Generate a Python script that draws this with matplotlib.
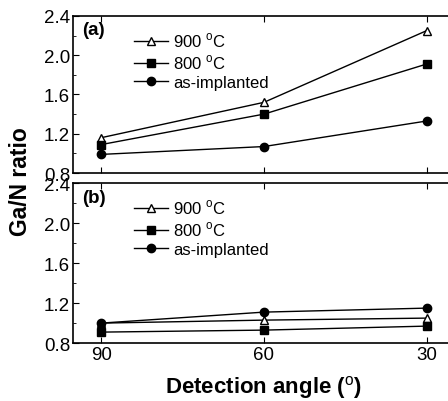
import matplotlib
matplotlib.use('Agg')
import matplotlib.pyplot as plt
from matplotlib.ticker import MultipleLocator

plt.rcParams['font.family'] = 'Liberation Sans'
plt.rcParams['mathtext.fontset'] = 'custom'
plt.rcParams['mathtext.rm'] = 'Liberation Sans'
plt.rcParams['mathtext.bf'] = 'Liberation Sans:bold'

angles = [90, 60, 30]
labels = ['900 $^{\\rm o}$C', '800 $^{\\rm o}$C', 'as-implanted']
markers = ['^', 's', 'o']
faces = ['white', 'black', 'black']

# panel (a)
a_900 = [1.16, 1.52, 2.25]
a_800 = [1.09, 1.40, 1.91]
a_imp = [0.99, 1.07, 1.33]
# panel (b)
b_900 = [1.00, 1.03, 1.05]
b_800 = [0.91, 0.93, 0.97]
b_imp = [1.00, 1.11, 1.15]

fig = plt.figure(figsize=(4.48, 4.02), dpi=100)
ax1 = fig.add_axes([0.163, 0.567, 0.85, 0.391])
ax2 = fig.add_axes([0.163, 0.144, 0.85, 0.398])

for ax, series, tag in [(ax1, [a_900, a_800, a_imp], '(a)'),
                        (ax2, [b_900, b_800, b_imp], '(b)')]:
    for vals, lab, m, fc in zip(series, labels, markers, faces):
        ax.plot(angles, vals, color='black', lw=1, marker=m, ms=6,
                mfc=fc, mec='black', mew=1, label=lab)
    ax.set_xlim(95.2, 25.0)
    ax.set_ylim(0.8, 2.4)
    ax.set_xticks(angles)
    ax.yaxis.set_major_locator(MultipleLocator(0.4))
    ax.yaxis.set_minor_locator(MultipleLocator(0.2))
    ax.tick_params(direction='in', which='both', top=True, right=True,
                   labelsize=13.5, pad=2)
    ax.tick_params(which='major', length=4)
    ax.tick_params(which='minor', length=2)
    for s in ax.spines.values():
        s.set_linewidth(1.2)
    ax.text(0.025, 0.965, tag, transform=ax.transAxes, fontsize=13.5,
            fontweight='bold', va='top', ha='left')
    ax.legend(loc='upper left', bbox_to_anchor=(0.13, 0.98), frameon=False,
              fontsize=12, handlelength=2.0, handletextpad=0.35,
              labelspacing=0.2, borderpad=0.2)

ax1.tick_params(labelbottom=False)
ax2.set_xlabel('Detection angle ($^{\\rm o}$)', fontsize=16, fontweight='bold', labelpad=7)
fig.text(0.045, 0.548, 'Ga/N ratio', rotation=90, fontsize=16.5, fontweight='bold',
         ha='center', va='center')

fig.savefig('out.png', dpi=100)
